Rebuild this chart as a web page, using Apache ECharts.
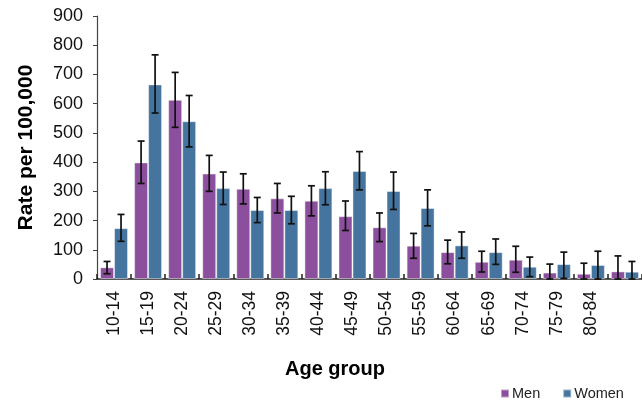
<!DOCTYPE html>
<html><head><meta charset="utf-8">
<script src="https://cdn.jsdelivr.net/npm/echarts@6/dist/echarts.min.js"></script>
<style>html,body{margin:0;padding:0;background:#fff}#c{width:642px;height:403px}</style>
</head><body><div id="c"></div>
<script>
const categories = ['10-14','15-19','20-24','25-29','30-34','35-39','40-44','45-49','50-54','55-59','60-64','65-69','70-74','75-79','80-84',''];
const men      = [40, 399, 613, 361, 309, 276, 268, 215, 177, 114, 92, 59, 66, 22, 18, 26];
const menLow   = [18, 327, 519, 300, 257, 226, 216, 166, 128, 71, 52, 24, 23, 0, 0, 0];
const menHigh  = [60, 472, 707, 423, 360, 327, 319, 267, 226, 156, 133, 95, 112, 51, 54, 79];
const women     = [174, 666, 540, 311, 236, 236, 311, 370, 301, 243, 115, 92, 42, 51, 48, 25];
const womenLow  = [129, 568, 452, 255, 193, 189, 254, 305, 238, 182, 71, 50, 8, 2, 0, 0];
const womenHigh = [221, 767, 628, 366, 279, 283, 367, 436, 366, 305, 161, 137, 75, 92, 95, 60];
const yTicks = [0, 100, 200, 300, 400, 500, 600, 700, 800, 900];

const FONT = 'Liberation Sans, Arial, sans-serif';
const BAR_W = 14;

function errorSeries(name, low, high, offset) {
  return {
    type: 'custom',
    name: name + ' error',
    z: 10,
    data: categories.map((c, i) => [i, low[i], high[i]]),
    encode: { x: 0, y: [1, 2] },
    renderItem: function (params, api) {
      const idx = api.value(0);
      const lo = api.coord([idx, api.value(1)]);
      const hi = api.coord([idx, api.value(2)]);
      const x = lo[0] + offset;
      const cap = 3.5;
      const style = { stroke: '#111', lineWidth: 1.7 };
      return {
        type: 'group',
        children: [
          { type: 'line', shape: { x1: x, y1: lo[1], x2: x, y2: hi[1] }, style: style },
          { type: 'line', shape: { x1: x - cap, y1: hi[1], x2: x + cap, y2: hi[1] }, style: style },
          { type: 'line', shape: { x1: x - cap, y1: lo[1], x2: x + cap, y2: lo[1] }, style: style }
        ]
      };
    }
  };
}

const chart = echarts.init(document.getElementById('c'), null, { renderer: 'canvas' });
chart.setOption({
  animation: false,
  textStyle: { fontFamily: FONT },
  title: {
    text: 'Age group', left: 280, top: 354,
    textStyle: { fontFamily: FONT, fontSize: 20, fontWeight: 'bold', color: '#000' }
  },
  legend: {
    data: ['Men', 'Women'],
    left: 495, top: 381,
    itemWidth: 8, itemHeight: 8, itemGap: 22,
    icon: 'rect',
    textStyle: { fontFamily: FONT, fontSize: 14.5, color: '#222', padding: [0, 0, 0, -2] }
  },
  grid: { left: 97, right: 0, top: 16, bottom: 124, containLabel: false },
  xAxis: {
    type: 'category',
    data: categories,
    axisLine: { lineStyle: { color: '#222', width: 1.5 } },
    axisTick: { show: true, inside: true, length: 5, alignWithLabel: false, lineStyle: { color: '#222', width: 1.5 } },
    axisLabel: { rotate: 90, fontSize: 17.5, color: '#111', margin: 12, interval: 0, fontFamily: FONT }
  },
  yAxis: {
    type: 'value',
    min: yTicks[0], max: yTicks[yTicks.length - 1], interval: 100,
    name: 'Rate per 100,000',
    nameLocation: 'middle', nameGap: 60, nameRotate: 90,
    nameTextStyle: { fontFamily: FONT, fontSize: 21, fontWeight: 'bold', color: '#000' },
    axisLine: { show: true, lineStyle: { color: '#444', width: 1.2 } },
    axisTick: { show: true, length: 4, lineStyle: { color: '#444' } },
    splitLine: { show: false },
    axisLabel: { fontSize: 18, color: '#111', margin: 14, fontFamily: FONT }
  },
  series: [
    {
      name: 'Men', type: 'bar', data: men, barWidth: BAR_W, barGap: '0%',
      itemStyle: { color: '#8C4F9D', borderColor: 'rgba(255,255,255,0.45)', borderWidth: 1 }
    },
    {
      name: 'Women', type: 'bar', data: women, barWidth: BAR_W, barGap: '0%',
      itemStyle: { color: '#45759F', borderColor: 'rgba(255,255,255,0.45)', borderWidth: 1 }
    },
    errorSeries('Men', menLow, menHigh, -BAR_W / 2),
    errorSeries('Women', womenLow, womenHigh, BAR_W / 2)
  ]
});
</script></body></html>
